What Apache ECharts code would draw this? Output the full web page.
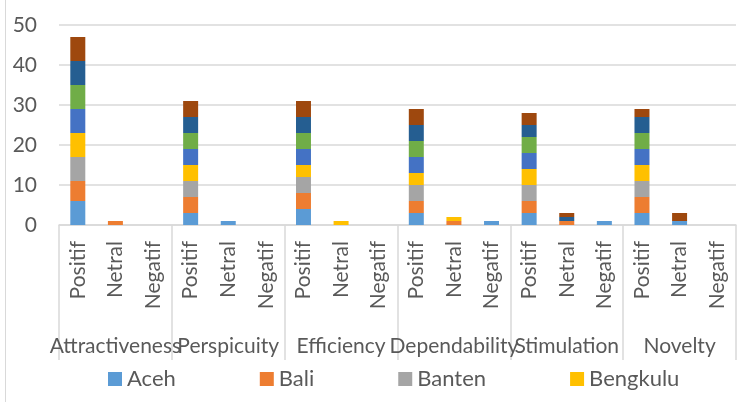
<!DOCTYPE html>
<html>
<head>
<meta charset="utf-8">
<script src="https://cdn.jsdelivr.net/npm/echarts@6/dist/echarts.min.js"></script>
<style>
  html, body { margin: 0; padding: 0; background: #fff; }
  #chart { width: 752px; height: 402px; }
</style>
</head>
<body>
<div id="chart"></div>
<script>
// UEQ dimensions and response classes (two-level category axis)
const groups = ['Attractiveness', 'Perspicuity', 'Efficiency', 'Dependability', 'Stimulation', 'Novelty'];
const classes = ['Positif', 'Netral', 'Negatif'];
const yTicks = [0, 10, 20, 30, 40, 50];

// Counts per province: for each dimension Positif, Netral, Negatif
const aceh         = [6, 0, 0,  3, 1, 0,  4, 0, 0,  3, 0, 1,  3, 0, 1,  3, 1, 0];
const bali         = [5, 1, 0,  4, 0, 0,  4, 0, 0,  3, 1, 0,  3, 1, 0,  4, 0, 0];
const banten       = [6, 0, 0,  4, 0, 0,  4, 0, 0,  4, 0, 0,  4, 0, 0,  4, 0, 0];
const bengkulu     = [6, 0, 0,  4, 0, 0,  3, 1, 0,  3, 1, 0,  4, 0, 0,  4, 0, 0];
const yogyakarta   = [6, 0, 0,  4, 0, 0,  4, 0, 0,  4, 0, 0,  4, 0, 0,  4, 0, 0];
const jakarta      = [6, 0, 0,  4, 0, 0,  4, 0, 0,  4, 0, 0,  4, 0, 0,  4, 0, 0];
const gorontalo    = [6, 0, 0,  4, 0, 0,  4, 0, 0,  4, 0, 0,  3, 1, 0,  4, 0, 0];
const jambi        = [6, 0, 0,  4, 0, 0,  4, 0, 0,  4, 0, 0,  3, 1, 0,  2, 2, 0];

const provinceNames = ['Aceh', 'Bali', 'Banten', 'Bengkulu', 'DI Yogyakarta', 'DKI Jakarta', 'Gorontalo', 'Jambi'];
const provinceValues = [aceh, bali, banten, bengkulu, yogyakarta, jakarta, gorontalo, jambi];
const provinceColors = ['#5B9BD5', '#ED7D31', '#A5A5A5', '#FFC000', '#4472C4', '#70AD47', '#255E91', '#9E480E'];

const FONT = 'Lato';
const TEXT = '#595959';
const GRID = '#d9d9d9';

// Inner axis: one slot per (dimension, class)
const innerCats = [];
groups.forEach(() => classes.forEach(c => innerCats.push(c)));

const series = provinceNames.map((name, i) => ({
  name: name,
  type: 'bar',
  stack: 'total',
  xAxisIndex: 0,
  barWidth: 15,
  itemStyle: { color: provinceColors[i] },
  emphasis: { disabled: true },
  data: provinceValues[i].map(v => (v === 0 ? '-' : v))
}));

const chart = echarts.init(document.getElementById('chart'), null, { renderer: 'canvas' });
chart.setOption({
  animation: false,
  backgroundColor: '#ffffff',
  textStyle: { fontFamily: FONT },
  grid: { left: 59, right: 16, top: 25, bottom: 177, containLabel: false },
  legend: {
    data: provinceNames.slice(0, 4),
    left: 108,
    top: 368,
    itemWidth: 14,
    itemHeight: 14,
    itemGap: 84,
    icon: 'rect',
    padding: 0,
    textStyle: { fontFamily: FONT, fontSize: 22, color: TEXT, padding: [2, 0, 0, 0] }
  },
  xAxis: [
    {
      type: 'category',
      data: innerCats,
      position: 'bottom',
      axisLine: { show: false },
      axisTick: { show: false },
      axisLabel: {
        interval: 0,
        rotate: 90,
        margin: 16,
        fontFamily: FONT,
        fontSize: 21,
        color: TEXT
      },
      splitLine: { show: false }
    },
    {
      type: 'category',
      data: groups,
      position: 'bottom',
      axisLine: { show: true, lineStyle: { color: GRID, width: 1.5 } },
      axisTick: {
        show: true,
        interval: 0,
        alignWithLabel: false,
        length: 135,
        lineStyle: { color: GRID, width: 1.5 }
      },
      axisLabel: {
        interval: 0,
        margin: 111,
        fontFamily: FONT,
        fontSize: 21,
        lineHeight: 21,
        color: TEXT
      },
      splitLine: { show: false }
    }
  ],
  yAxis: {
    type: 'value',
    min: yTicks[0],
    max: yTicks[yTicks.length - 1],
    interval: 10,
    axisLine: { show: false },
    axisTick: { show: false },
    axisLabel: { margin: 22, fontFamily: FONT, fontSize: 21, color: TEXT },
    splitLine: { show: true, lineStyle: { color: GRID, width: 1.5 } }
  },
  graphic: [
    {
      type: 'line',
      shape: { x1: 5.5, y1: 0, x2: 5.5, y2: 402 },
      style: { stroke: GRID, lineWidth: 1 },
      silent: true
    }
  ],
  series: series
});
</script>
</body>
</html>
